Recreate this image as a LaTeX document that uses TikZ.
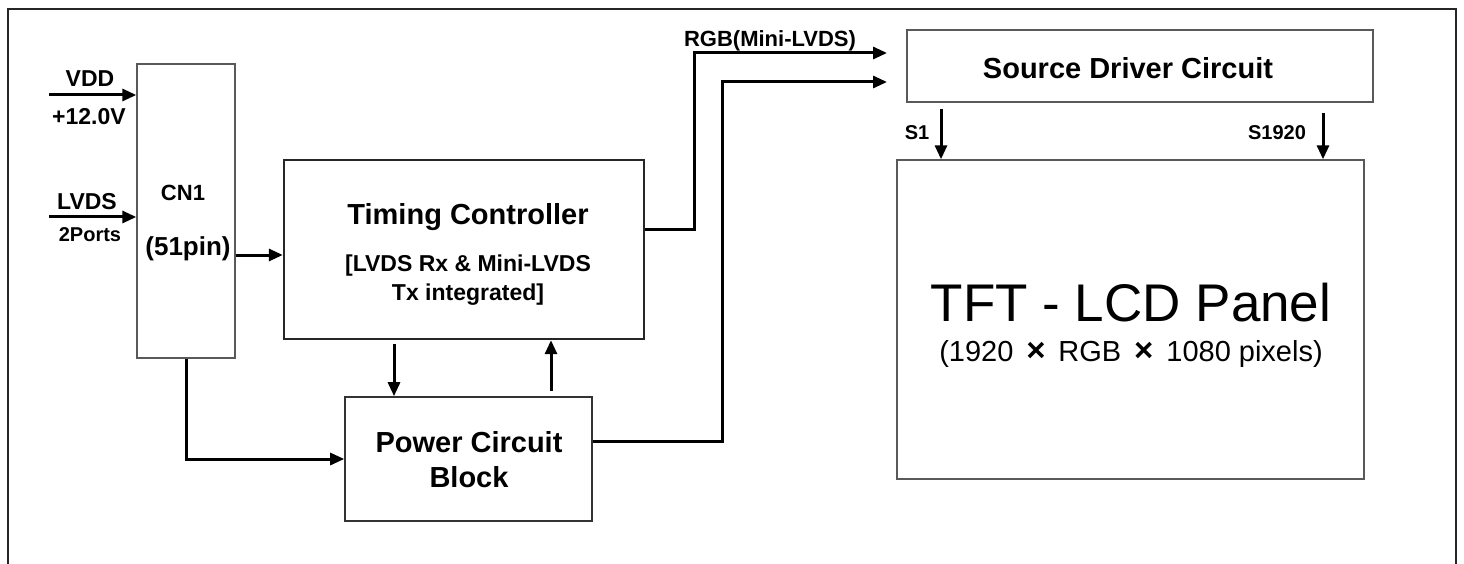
\documentclass[tikz,border=0pt]{standalone}
\usepackage{fontspec}
\setmainfont{Liberation Sans}
\setsansfont{Liberation Sans}
\usetikzlibrary{arrows.meta}

\begin{document}
\begin{tikzpicture}[x=1pt,y=-1pt,font=\sffamily\bfseries,blk/.style={draw=#1,inner sep=0pt},sig/.style={line width=3pt,-{Triangle[length=14pt,width=12pt]}},lbl/.style={inner sep=0pt,font=\sffamily\bfseries\fontsize{#1}{#1}\selectfont}]
\useasboundingbox (0,0) rectangle (1464,564);
\draw[line width=2.4pt,draw=black!85] (8,564) -- (8,9) -- (1456,9) -- (1456,564);
% blocks
\node[blk=black!65,line width=1.4pt,minimum width=98pt,minimum height=294pt] (cn1) at (186,211) {};
\node[blk=black!85,line width=2.4pt,minimum width=360pt,minimum height=179pt] (tc) at (464,249.5) {};
\node[blk=black!80,line width=1.6pt,minimum width=247pt,minimum height=124pt] (pwr) at (468.5,459) {};
\node[blk=black!65,line width=1.4pt,minimum width=466pt,minimum height=72pt] (src) at (1140,66) {};
\node[blk=black!65,line width=1.4pt,minimum width=467pt,minimum height=319pt] (tft) at (1130.5,319.5) {};
% texts
\node[lbl=22] (cn1name) at (183,193) {CN1};
\node[lbl=26] (cn1pin) at (188,249) {(51pin)};
\node[lbl=29] (tcname) at (468,217) {Timing Controller};
\node[inner sep=0pt,align=center,font=\sffamily\bfseries\fontsize{23}{29}\selectfont] (tcnote) at (468,280) {[LVDS Rx \& Mini-LVDS\\Tx integrated]};
\node[inner sep=0pt,align=center,font=\sffamily\bfseries\fontsize{29}{35}\selectfont] (pwrname) at (469,460) {Power Circuit\\Block};
\node[lbl=29] (srcname) at (1128,68) {Source Driver Circuit};
\node[inner sep=0pt,font=\sffamily\fontsize{53}{53}\selectfont] (tftname) at (1131,303) {TFT - LCD Panel};
\node[inner sep=0pt,font=\sffamily\fontsize{29}{29}\selectfont] (tftres) at (1131,354.5) {(1920 \,{\bfseries\fontsize{33}{33}\selectfont ×}\, RGB \,{\bfseries\fontsize{33}{33}\selectfont ×}\, 1080 pixels)};
\node[lbl=23] (vddname) at (90,79) {VDD};
\node[lbl=23] (vddval) at (89,117) {+12.0V};
\node[lbl=23] (lvdsname) at (87,202) {LVDS};
\node[lbl=20] (lvdsports) at (90,235) {2Ports};
\node[lbl=22] (rgbname) at (770,41) {RGB(Mini-LVDS)};
\node[lbl=20] (s1) at (917,133) {S1};
\node[lbl=20] (s1920) at (1277,133) {S1920};
% connectors
\coordinate (vdd) at (49,95);
\coordinate (lvds) at (49,217);
\coordinate (rgbin) at (887,53);
\coordinate (pwrin) at (887,82);
\draw[sig] (vdd) -- (vdd -| cn1.west);
\draw[sig] (lvds) -- (lvds -| cn1.west);
\draw[sig] (cn1.east |- 0,255) -- (tc.west |- 0,255);
\draw[sig] (cn1.south) |- (pwr.west);
\draw[sig] (tc.south -| 394,0) ++(0,4) -- (pwr.north -| 394,0);
\draw[sig] (pwr.north -| 551,0) ++(0,-5) -- (tc.south -| 551,0);
\draw[sig] (tc.east |- 0,229) -- ++(49,0) |- (rgbin);
\draw[sig] (pwr.east |- 0,441) -- ++(130,0) |- (pwrin);
\draw[sig] (src.south -| 941,0) ++(0,6) -- (tft.north -| 941,0);
\draw[sig] (src.south -| 1323,0) ++(0,10) -- (tft.north -| 1323,0);
\end{tikzpicture}
\end{document}
